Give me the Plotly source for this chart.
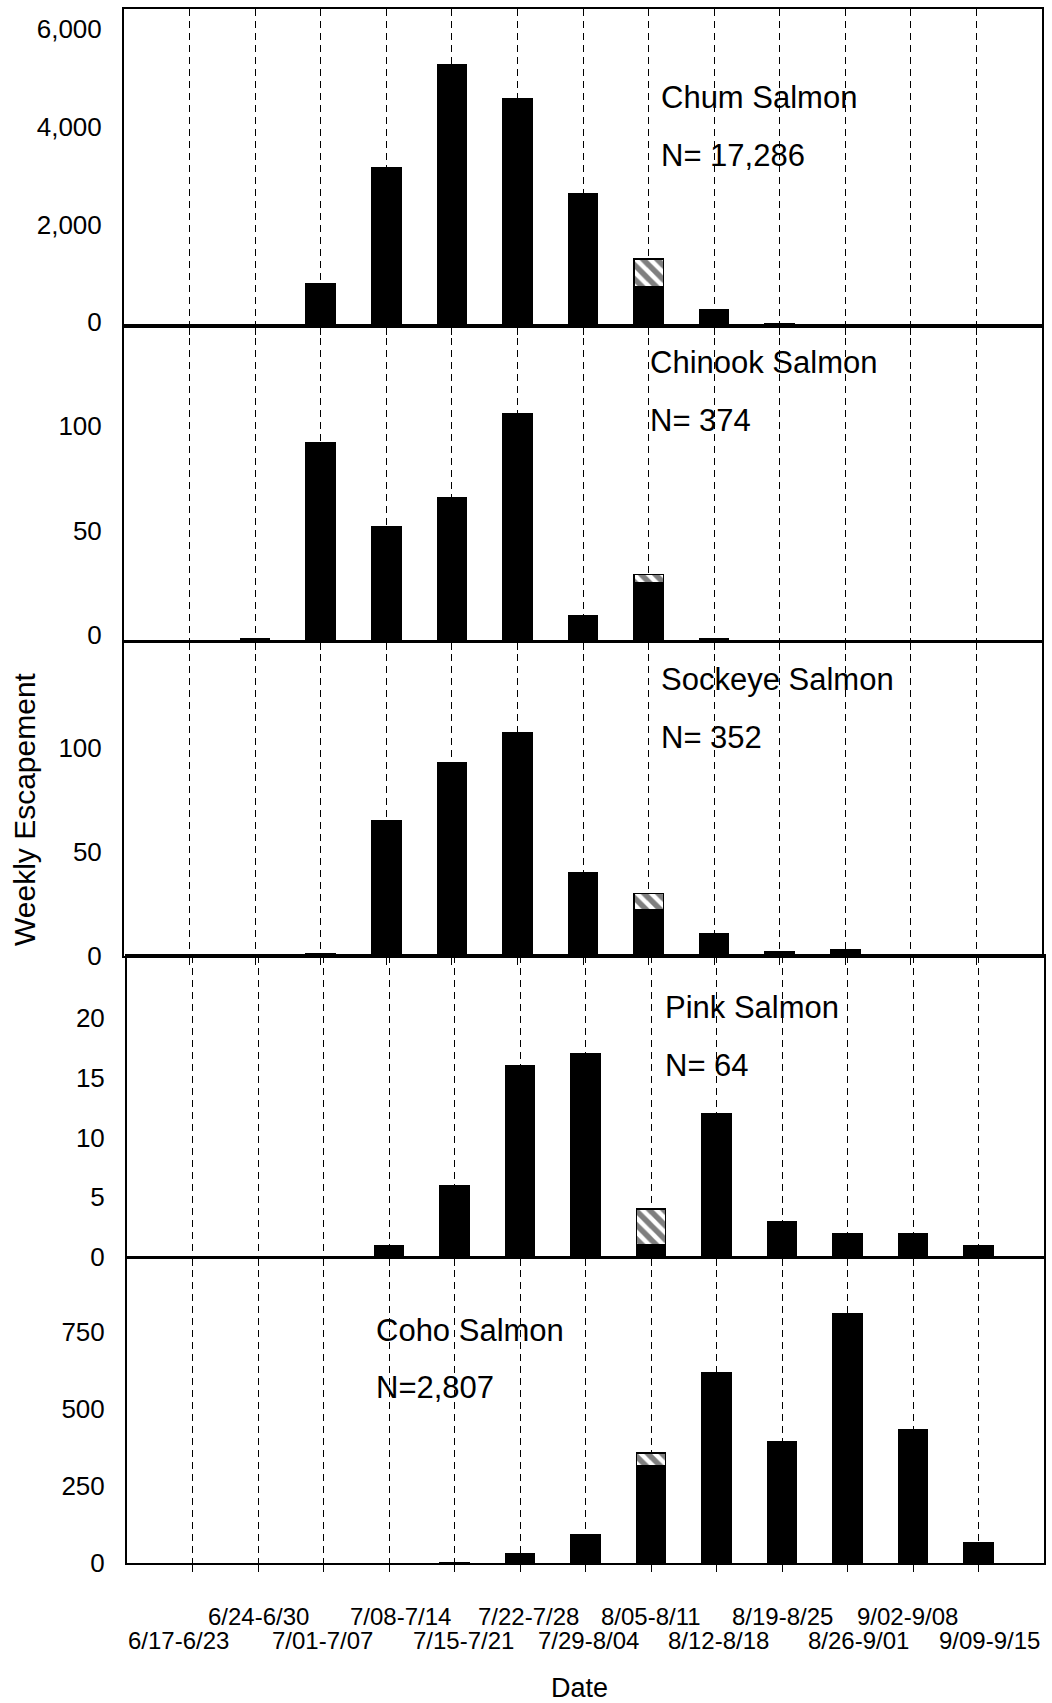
import plotly.graph_objects as go

# ---------------- data ----------------
weeks = ["6/17-6/23", "6/24-6/30", "7/01-7/07", "7/08-7/14", "7/15-7/21",
         "7/22-7/28", "7/29-8/04", "8/05-8/11", "8/12-8/18", "8/19-8/25",
         "8/26-9/01", "9/02-9/08", "9/09-9/15"]

chum_counted = [0, 0, 881, 3258, 5369, 4652, 2725, 799, 348, 61, 20, 20, 0]
chum_hatched = [None, None, None, None, None, None, None, 574, None, None, None, None, None]

chinook_counted = [0, 1, 95, 55, 69, 109, 12, 28, 1, 0, 0, 0, 0]
chinook_hatched = [None, None, None, None, None, None, None, 4, None, None, None, None, None]

sockeye_counted = [0, 0, 1, 65, 93, 107, 40, 22, 11, 2, 3, 0, 0]
sockeye_hatched = [None, None, None, None, None, None, None, 8, None, None, None, None, None]

pink_counted = [0, 0, 0, 1, 6, 16, 17, 1, 12, 3, 2, 2, 1]
pink_hatched = [None, None, None, None, None, None, None, 3, None, None, None, None, None]

coho_counted = [0, 0, 0, 0, 3, 32, 91, 314, 619, 395, 810, 434, 65]
coho_hatched = [None, None, None, None, None, None, None, 43, None, None, None, None, None]

species = ["Chum Salmon", "Chinook Salmon", "Sockeye Salmon", "Pink Salmon", "Coho Salmon"]
n_labels = ["N= 17,286", "N= 374", "N= 352", "N= 64", "N=2,807"]

chum_ticks = [0, 2000, 4000, 6000]
chinook_ticks = [0, 50, 100]
sockeye_ticks = [0, 50, 100]
pink_ticks = [0, 5, 10, 15, 20]
coho_ticks = [0, 250, 500, 750]

counted = [chum_counted, chinook_counted, sockeye_counted, pink_counted, coho_counted]
hatched = [chum_hatched, chinook_hatched, sockeye_hatched, pink_hatched, coho_hatched]
ticks = [chum_ticks, chinook_ticks, sockeye_ticks, pink_ticks, coho_ticks]

# ---------------- layout geometry (pixels) ----------------
W, H = 1052, 1703
panel_top = [9, 326, 642, 956, 1258]
panel_bot = [326, 641, 956, 1257, 1563]
panel_left = [124, 124, 124, 127, 127]
panel_right = [1042, 1042, 1042, 1044, 1044]
yaxis_max = [6496, 151, 150.6, 25.2, 988.6]
tick_shift = [-4, -6, 0, 0, 0]
label_pos = [(659, 97, 155), (648, 363, 420), (659, 680, 737), (663, 1007, 1065), (374, 1330, 1387)]
date_row_y = [1640, 1616]
date_xshift = [-14, 0, -1, 11, 9, 8, 3, 0, 2, 0, 11, -6, 11]

FONT = "Liberation Sans, Arial, Helvetica, sans-serif"

def fx(px):
    return px / W

def fy(py):
    return 1 - py / H

fig = go.Figure()
layout = dict(
    width=W, height=H,
    margin=dict(l=0, r=0, t=0, b=0, autoexpand=False),
    paper_bgcolor="white", plot_bgcolor="white",
    barmode="stack", showlegend=False,
    font=dict(family=FONT, color="black", size=24),
)
annotations = []

for i in range(5):
    sfx = "" if i == 0 else str(i + 1)
    xa, ya = "x" + sfx, "y" + sfx
    fig.add_trace(go.Bar(
        x=weeks, y=counted[i], xaxis=xa, yaxis=ya, width=0.45,
        marker=dict(color="black", line=dict(color="black", width=1)),
        hoverinfo="x+y",
    ))
    fig.add_trace(go.Bar(
        x=weeks, y=hatched[i], xaxis=xa, yaxis=ya, width=0.45,
        marker=dict(color="white",
                    pattern=dict(shape="\\", fgcolor="black", bgcolor="white",
                                 size=10, solidity=0.55),
                    line=dict(color="black", width=1.5)),
        hoverinfo="x+y",
    ))
    layout["xaxis" + sfx] = dict(
        domain=[fx(panel_left[i]), fx(panel_right[i])],
        anchor=ya, type="category", range=[-1, len(weeks)],
        showgrid=True, gridcolor="black", gridwidth=1, griddash="7px,5px",
        showline=True, mirror=True, linecolor="black", linewidth=2,
        ticks="outside", ticklen=7, tickcolor="black", tickwidth=1,
        showticklabels=False, zeroline=False, automargin=False,
    )
    tv = ticks[i]
    layout["yaxis" + sfx] = dict(
        domain=[fy(panel_bot[i]), fy(panel_top[i])],
        anchor=xa, range=[0, yaxis_max[i]],
        tickvals=tv, ticktext=[f"{v:,}" for v in tv],
        showgrid=False, zeroline=False,
        showline=True, mirror=True, linecolor="black", linewidth=2,
        ticks="", ticklabelstandoff=15, ticklabelshift=tick_shift[i],
        tickfont=dict(family=FONT, size=26, color="black"),
        automargin=False,
    )
    lx, ly1, ly2 = label_pos[i]
    annotations.append(dict(text=species[i], x=fx(lx), y=fy(ly1), xref="paper", yref="paper",
                            xanchor="left", yanchor="middle", showarrow=False,
                            font=dict(family=FONT, size=31, color="black")))
    annotations.append(dict(text=n_labels[i], x=fx(lx), y=fy(ly2), xref="paper", yref="paper",
                            xanchor="left", yanchor="middle", showarrow=False,
                            font=dict(family=FONT, size=31, color="black")))

# date tick labels below the bottom panel, in two staggered rows
for j, wk in enumerate(weeks):
    annotations.append(dict(text=wk, x=wk, xref="x5", y=fy(date_row_y[j % 2]), yref="paper",
                            xanchor="center", yanchor="middle", showarrow=False,
                            xshift=date_xshift[j],
                            font=dict(family=FONT, size=24, color="black")))

annotations.append(dict(text="Date", x=fx(579), y=fy(1688), xref="paper", yref="paper",
                        xanchor="center", yanchor="middle", showarrow=False,
                        font=dict(family=FONT, size=27, color="black")))
annotations.append(dict(text="Weekly Escapement", x=fx(24), y=fy(809), xref="paper", yref="paper",
                        xanchor="center", yanchor="middle", showarrow=False, textangle=-90,
                        font=dict(family=FONT, size=30, color="black")))

layout["annotations"] = annotations
fig.update_layout(**layout)
fig.write_html("out.html",
               config={"displayModeBar": False},
               post_script="document.body.style.margin='0';document.body.style.overflow='hidden';")
